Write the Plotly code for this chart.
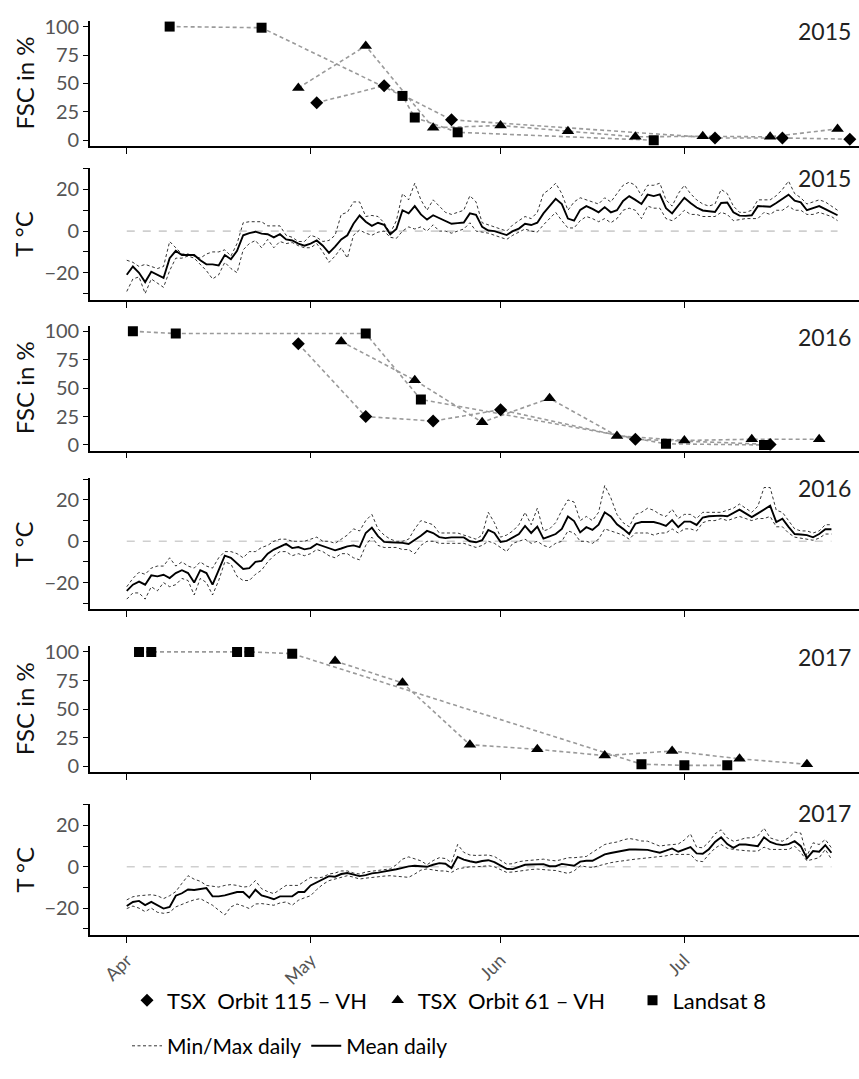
import plotly.graph_objects as go
import pandas as pd

# ---------------- data ----------------
MONTH_STARTS = ["04-01", "05-01", "06-01", "07-01"]
MONTH_LABELS = ["Apr", "May", "Jun", "Jul"]
FSC_TICKS = [0, 25, 50, 75, 100]
T_TICKS = [-30, -20, -10, 0, 10, 20, 30]
T_TICKTEXT = ["", "−20", "", "0", "", "20", ""]
YEARS = [2015, 2016, 2017]
SENSORS = ["TSX\u00a0 Orbit 115 – VH\u00a0", "TSX\u00a0 Orbit 61 – VH\u00a0\u00a0\u00a0\u00a0", "Landsat 8"]

# FSC observations (%)
FSC2015_TSX115_DATES = ["2015-05-02", "2015-05-13", "2015-05-24", "2015-07-06", "2015-07-17", "2015-07-28"]
FSC2015_TSX115 = [33, 48, 18, 2, 2, 1]
FSC2015_TSX61_DATES = ["2015-04-29", "2015-05-10", "2015-05-21", "2015-06-01", "2015-06-12",
                       "2015-06-23", "2015-07-04", "2015-07-15", "2015-07-26"]
FSC2015_TSX61 = [46, 83, 11, 13, 8, 3, 3.5, 3, 10]
FSC2015_L8_DATES = ["2015-04-08", "2015-04-23", "2015-05-16", "2015-05-18", "2015-05-25", "2015-06-26"]
FSC2015_L8 = [100, 99, 39, 20, 7, 0]

FSC2016_TSX115_DATES = ["2016-04-29", "2016-05-10", "2016-05-21", "2016-06-01", "2016-06-23", "2016-07-15"]
FSC2016_TSX115 = [89, 25, 21, 31, 5, 0.5]
FSC2016_TSX61_DATES = ["2016-05-06", "2016-05-18", "2016-05-29", "2016-06-09", "2016-06-20",
                       "2016-07-01", "2016-07-12", "2016-07-23"]
FSC2016_TSX61 = [91, 57, 20, 41, 8, 4, 5, 5]
FSC2016_L8_DATES = ["2016-04-02", "2016-04-09", "2016-05-10", "2016-05-19", "2016-06-28", "2016-07-14"]
FSC2016_L8 = [100, 98, 98, 40, 1, 0]

FSC2017_TSX115_DATES = []
FSC2017_TSX115 = []
FSC2017_TSX61_DATES = ["2017-05-05", "2017-05-16", "2017-05-27", "2017-06-07", "2017-06-18",
                       "2017-06-29", "2017-07-10", "2017-07-21"]
FSC2017_TSX61 = [92, 73, 19, 15, 9.5, 13.5, 6.7, 2]
FSC2017_L8_DATES = ["2017-04-03", "2017-04-05", "2017-04-19", "2017-04-21", "2017-04-28",
                    "2017-06-24", "2017-07-01", "2017-07-08"]
FSC2017_L8 = [100, 100, 100, 100, 98.5, 2, 1, 1]

# Daily air temperature (°C), starting 1 April
T2015_MEAN = [-21, -17, -20, -24.5, -19.5, -21, -22.5, -13, -9.5, -11.5,
              -11.5, -11.5, -14, -16, -16, -16.5, -11.5, -13.5, -9.5, -2,
              -1, -0.3, -1.2, -1.5, -3, -1.5, -4, -4.5, -6, -7,
              -6, -4.5, -7, -10.5, -7.5, -4, -2, 3.5, 7.5, 4.5,
              2.5, 4, 3, -1.5, 1, 10, 8.5, 12, 8, 5.5,
              7.6, 6.2, 5, 3.5, 3.8, 4.1, 8.5, 7.8, 2, 0.3,
              0, -0.8, -1.9, 0, 1.2, 3.5, 2.9, 4, 8.5, 12,
              15.5, 13, 6, 5, 10.2, 12, 10.7, 9, 11.5, 9,
              10, 14.5, 16.8, 15, 13, 17.5, 16.8, 17.6, 11, 8.5,
              12.5, 16, 13.5, 11.3, 9.9, 9.5, 9.2, 13.5, 13.7, 9,
              7.4, 7.3, 7.6, 12, 12, 11.7, 13.5, 15.5, 17.5, 14.6,
              13.8, 10, 11, 12, 10.5, 9, 7.6]
T2015_MAX = [-14, -15, -17, -16, -17, -18, -17, -5, -8, -11,
             -11, -12, -13, -11, -10, -10, -9, -12, -6, 4,
             4.5, 4.5, 4.5, 2.5, 2.5, 2.5, -2, -3, -5, -5,
             -2, -3, -5, -4.5, -2, 8, 9, 14, 14, 7,
             7.5, 7, 4, -1, 5, 18, 15, 23, 15, 10,
             15, 12, 9, 8, 9, 10, 17, 14, 4, 3,
             2, 1, 0, 3, 5, 7, 6, 9, 18, 20,
             23, 18, 10, 14, 16, 15, 14, 13, 16, 14,
             18, 22, 23.5, 22, 17, 22, 22, 23, 15, 12,
             18, 22, 18, 15, 13, 12, 13, 20, 18, 12,
             9, 9, 10, 15, 15, 15, 17, 20, 24, 18,
             16, 13, 14, 15, 14, 12, 10]
T2015_MIN = [-29, -23, -22, -30, -23, -25, -27, -19, -13, -13,
             -12, -13, -16, -19, -23, -21, -15, -18, -20, -9,
             -6, -4.5, -8, -4, -8, -5, -6, -5.5, -7, -8,
             -8, -6, -10, -15, -12, -8, -13, -2, 0.5, -1,
             -2, -0.5, 0, -3, -3.5, 0, 2, 1, 2, 0,
             3, 0, 0, -1, 0, 1, 4, 0, -0.5, -1,
             -2, -3, -4, -2, -0.5, 1, 0, -0.5, 3, 6,
             9, 5, 1.5, 1.5, 5, 7, 6, 4.5, 6, 4,
             6, 10, 11, 10, 6, 12, 11, 11, 6, 5,
             7, 10, 8, 8, 7, 7, 7, 9, 8, 5,
             5.5, 6, 6, 6, 9, 8, 10, 10, 12, 10,
             10, 8, 8, 9, 8, 7, 5]

T2016_MEAN = [-24, -21, -19.5, -21, -16.5, -17, -16.2, -17.8, -15.4, -14,
              -15.4, -20, -14, -15.4, -21, -14, -7, -8, -10.7, -13.4,
              -13, -10, -9.5, -6, -4, -2.5, -1.3, -3.3, -2.8, -3.9,
              -3.3, -1.3, -2.4, -3.3, -4.4, -3.5, -2.5, -2, -2.8, 4,
              6.6, 2.5, -0.3, -0.5, -0.5, -0.8, -1.3, 0.5, 2.7, 5,
              4, 2, 1.5, 1.9, 1.9, 1.9, 0, -0.5, 0.5, 5.5,
              4, -0.3, 0.2, 2, 3.5, 7.4, 4, 7.1, 1.3, 2.4,
              3.5, 6, 12, 9.8, 4.3, 6.8, 5.5, 8, 14, 12,
              8.2, 6, 3.5, 8.5, 9.3, 9.3, 9.3, 8.5, 7.4, 10.2,
              6.8, 9.5, 9.5, 7.9, 11.5, 12.1, 12.2, 12.4, 12.1, 13.5,
              15.3, 13.5, 11.7, 13.5, 15.5, 17.2, 9.3, 10.9, 7, 3.5,
              3.3, 3, 1.9, 3.5, 5.8, 5.8]
T2016_MAX = [-22, -18, -15, -16, -13, -12, -12, -8, -12, -10,
             -12, -13, -10, -12, -13, -8, -5, -5, -6, -8,
             -5, -5, -3, -2, 0, 1, 1, 0, 0, 0,
             1, 2, 0, 0, -1, 1, 3, 6, 5, 10,
             13, 6, 3, 1, 0, 0, 1, 6, 10, 9,
             8, 4, 4, 4, 4, 3, 2, 1, 3, 14,
             9, 2, 3, 5, 8, 14, 8, 16, 5, 6,
             9, 15, 20, 19, 10, 12, 10, 14, 27, 21,
             13, 9, 7, 13, 14, 16, 15, 13, 12, 15.5,
             11, 13, 13, 11, 14, 14, 14, 14, 15, 16,
             18, 16, 14, 17, 26, 26, 15, 14, 10, 6,
             5, 5, 4, 5, 8, 8]
T2016_MIN = [-28, -25, -25, -28, -22, -24, -20, -22, -21, -18,
             -19, -26, -18, -20, -26, -19, -10, -11, -17, -19,
             -19, -16, -14, -10, -7, -5, -5, -7, -6, -7,
             -6, -4, -5, -7, -8, -6, -6, -8, -9, -2,
             2, -2, -3, -3, -3, -4, -4, -6, -2, 0,
             0, -1, -1, -1, -1, -1, -2, -3, -2, 0,
             -1, -3, -5, -1, 0, 1, -1, 0, -2, -3,
             -1, 0, 5, 4, 0, 0, -1, 1, 6, 5,
             4, 3, 1, 4, 4, 4, 3, 4, 4, 6,
             4, 6, 6, 5, 9, 10, 10, 11, 10, 11,
             12, 11, 10, 11, 11, 12, 7, 7, 4, 2,
             1.5, 1, 0.5, 1.5, 3.5, 3.5]

T2017_MEAN = [-19, -17, -16.5, -18.5, -17, -18.6, -20.2, -19.4, -14, -12.8,
              -11, -11.2, -10.8, -10.3, -14.3, -14.3, -13.8, -13, -12.2, -12.2,
              -14.9, -11.1, -13.8, -14.7, -15.7, -14.3, -14.3, -14.3, -12.2, -12.2,
              -9, -7.5, -6, -4.5, -4.8, -3.5, -3, -3.8, -4.5, -4,
              -3.2, -2.8, -2.3, -1.9, -1.2, -0.5, 0.2, 0.5, 0.3, 0,
              1, 1.8, 1.5, -0.6, 4.8, 3.5, 2.7, 2.1, 2.8, 3.2,
              2.3, 0.5, -1, -1.1, 0, 1, 1.1, 1.2, 1.3, 0.3,
              0.3, 1.4, 1, 0.5, 2.5, 2.9, 2.9, 4.5, 6, 6.7,
              7.3, 8, 8.4, 8.4, 8.4, 8.2, 7.5, 6.8, 7.8, 8.9,
              7.3, 8.5, 9.5, 6.5, 6.3, 8.5, 12, 14.3, 11, 9.2,
              10.8, 10.8, 10.5, 10, 14.3, 12, 11, 10.5, 11, 12.4,
              10, 4.1, 7.6, 7.3, 10.5, 6.8]
T2017_MAX = [-16, -14.5, -14, -13.8, -13.5, -14, -15.4, -14, -12, -8,
             -4.3, -6, -7, -9, -9.5, -9.8, -9, -8.6, -9, -9.8,
             -9.5, -6.7, -10.6, -12, -13, -11, -9, -9, -9, -7,
             -5.1, -5.4, -5, -3.5, -3, -2, -2, -3, -3.5, -2.5,
             -2.2, -1.8, -1.3, -1, 1, 3.7, 4.8, 4, 2.9, 1,
             3, 4.4, 4, 2, 10.8, 7, 5.7, 5.5, 5.5, 5.7,
             5, 3, 1.3, 1.5, 2.5, 2.9, 3.2, 3.5, 3.7, 3.2,
             2.9, 3.5, 4.4, 4.4, 4.8, 5, 7, 9, 10.8, 11.5,
             12, 13, 13.7, 13.2, 12.5, 12.4, 11, 10, 10.5, 10.8,
             11, 13, 15.9, 9.5, 9.2, 12, 16, 17.9, 14, 12.4,
             13, 14, 14, 15, 18.7, 14, 13, 12.4, 14, 16.8,
             16.3, 5.2, 11.6, 10.8, 13.2, 9.2]
T2017_MIN = [-20.2, -19, -20, -21.7, -20, -22, -22.5, -22, -19.4, -18,
             -17, -16, -15.4, -17, -18.6, -21, -23.3, -19.4, -18, -19,
             -20.2, -18, -17.8, -18.2, -18.6, -17.5, -17, -18.6, -16.2, -15,
             -14, -11, -8.5, -6.7, -6, -5, -4.3, -5, -5.9, -5.5,
             -5.1, -4.8, -4.5, -4.3, -4.5, -5, -5.1, -3.5, -1.6, -1,
             -1.5, -2, -2, -2.7, -1, -0.6, 0, 0, 0.3, 0.5,
             0, -1.5, -2.7, -2.5, -2, -1.6, -1.3, -1.1, -1.2, -1.6,
             -1.8, -2.5, -3.2, -2, 0.5, 0, -0.3, 0.5, 1.3, 2,
             2.5, 3, 3.3, 3.7, 4, 4.3, 4.6, 4.8, 5.3, 6,
             6, 6, 6, 2.9, 2.5, 6, 9, 10.8, 9, 8.4,
             8, 7.8, 7.6, 7.6, 9.5, 8.4, 8.4, 8.4, 8.4, 10,
             7, 2.9, 3.7, 4.4, 8.4, 3.7]

FSC_DATA = {
    2015: [(FSC2015_TSX115_DATES, FSC2015_TSX115), (FSC2015_TSX61_DATES, FSC2015_TSX61), (FSC2015_L8_DATES, FSC2015_L8)],
    2016: [(FSC2016_TSX115_DATES, FSC2016_TSX115), (FSC2016_TSX61_DATES, FSC2016_TSX61), (FSC2016_L8_DATES, FSC2016_L8)],
    2017: [(FSC2017_TSX115_DATES, FSC2017_TSX115), (FSC2017_TSX61_DATES, FSC2017_TSX61), (FSC2017_L8_DATES, FSC2017_L8)],
}
T_DATA = {2015: (T2015_MIN, T2015_MAX, T2015_MEAN),
          2016: (T2016_MIN, T2016_MAX, T2016_MEAN),
          2017: (T2017_MIN, T2017_MAX, T2017_MEAN)}
ZERO = 0

# ---------------- style / layout ----------------
FONT = "Lato, 'Open Sans', sans-serif"
W, H = 859, 1079
ML, MR, MT, MB = 90, 0, 0, 144
PH = H - MT - MB
PW = W - ML - MR
PANEL_PX = [(14, 140), (162, 295), (321, 447), (475, 607), (644, 771), (803, 935)]
YEAR_PX = [24, 172, 332, 485, 655, 812]
SYMBOLS = ["diamond", "triangle-up", "square"]
SIZES = [10, 11, 10]
GREY = "#9a9a9a"


def py(px):
    return 1 - (px - MT) / PH


def pxx(px):
    return (px - ML) / PW


fig = go.Figure()
panels = []
for yr in YEARS:
    panels.append(("fsc", yr))
    panels.append(("t", yr))

legend_done = set()
annotations = []
layout = {}
for i, (kind, yr) in enumerate(panels):
    n = "" if i == 0 else str(i + 1)
    xa, ya = "x" + n, "y" + n
    if kind == "fsc":
        for k, (dts, vals) in enumerate(FSC_DATA[yr]):
            if not dts:
                continue
            fig.add_trace(go.Scatter(x=pd.to_datetime(dts), y=vals, mode="lines",
                                     line=dict(color=GREY, width=1.6, dash="4px,3px"),
                                     showlegend=False, hoverinfo="skip", xaxis=xa, yaxis=ya))
        for k, (dts, vals) in enumerate(FSC_DATA[yr]):
            if not dts:
                continue
            show = k not in legend_done
            legend_done.add(k)
            fig.add_trace(go.Scatter(x=pd.to_datetime(dts), y=vals, mode="markers",
                                     marker=dict(symbol=SYMBOLS[k], size=SIZES[k], color="black"),
                                     name=SENSORS[k], showlegend=show, legend="legend",
                                     legendrank=k, xaxis=xa, yaxis=ya))
    else:
        tmin, tmax, tmean = T_DATA[yr]
        dates = pd.date_range(f"{yr}-04-01", periods=len(tmean), freq="D")
        fig.add_trace(go.Scatter(x=[dates[0], dates[-1]], y=[ZERO, ZERO], mode="lines",
                                 line=dict(color="#cfcfcf", width=1.6, dash="8px,8px"),
                                 showlegend=False, hoverinfo="skip", xaxis=xa, yaxis=ya))
        first = yr == YEARS[0]
        fig.add_trace(go.Scatter(x=dates, y=tmax, mode="lines",
                                 line=dict(color="black", width=0.8, dash="3px,2.5px"),
                                 name="Min/Max daily", legendgroup="mm", showlegend=first,
                                 legend="legend2", legendrank=1, xaxis=xa, yaxis=ya))
        fig.add_trace(go.Scatter(x=dates, y=tmin, mode="lines",
                                 line=dict(color="black", width=0.8, dash="3px,2.5px"),
                                 name="Min/Max daily", legendgroup="mm", showlegend=False,
                                 legend="legend2", xaxis=xa, yaxis=ya))
        fig.add_trace(go.Scatter(x=dates, y=tmean, mode="lines",
                                 line=dict(color="black", width=1.9),
                                 name="Mean daily", showlegend=first,
                                 legend="legend2", legendrank=2, xaxis=xa, yaxis=ya))

    top, bot = PANEL_PX[i]
    last = i == len(panels) - 1
    layout["xaxis" + n] = dict(
        domain=[0, 1], anchor=ya,
        range=[f"{yr}-03-26", f"{yr}-07-29 12:00"],
        tickvals=[f"{yr}-{m}" for m in MONTH_STARTS], ticktext=MONTH_LABELS,
        showticklabels=last, tickangle=-45,
        showline=True, linecolor="black", linewidth=1.6,
        ticks="outside", ticklen=6, tickwidth=1.4, tickcolor="black",
        showgrid=False, zeroline=False,
        tickfont=dict(family=FONT, size=18, color="#555555"),
    )
    if kind == "fsc":
        yax = dict(range=[-5, 105], tickvals=FSC_TICKS, ticktext=[str(v) for v in FSC_TICKS])
        ytitle = "FSC in %"
    else:
        yax = dict(range=[-33, 30.4], tickvals=T_TICKS, ticktext=T_TICKTEXT)
        ytitle = "T °C"
    yax.update(domain=[py(bot), py(top)], anchor=xa,
               showline=True, linecolor="black", linewidth=1.6,
               ticks="outside", ticklen=5, tickwidth=1.4, tickcolor="black",
               showgrid=False, zeroline=False,
               tickfont=dict(family=FONT, size=20, color="#555555"))
    layout["yaxis" + n] = yax

    annotations.append(dict(text=ytitle, xref="paper", yref="paper",
                            x=pxx(24), y=py((top + bot) / 2), textangle=-90,
                            xanchor="center", yanchor="middle", showarrow=False,
                            font=dict(family=FONT, size=24, color="#111111")))
    annotations.append(dict(text=str(yr), xref="paper", yref="paper",
                            x=pxx(853), y=py(YEAR_PX[i]), xanchor="right", yanchor="middle",
                            showarrow=False, font=dict(family=FONT, size=23, color="#222222")))

fig.update_layout(
    width=W, height=H,
    margin=dict(l=ML, r=MR, t=MT, b=MB),
    plot_bgcolor="white", paper_bgcolor="white",
    font=dict(family=FONT, color="black"),
    annotations=annotations,
    legend=dict(orientation="h", x=pxx(127), xanchor="left", y=py(1001), yanchor="middle",
                font=dict(family=FONT, size=22, color="black"), bgcolor="rgba(0,0,0,0)",
                traceorder="normal"),
    legend2=dict(orientation="h", x=pxx(127), xanchor="left", y=py(1047), yanchor="middle",
                 font=dict(family=FONT, size=21, color="black"), bgcolor="rgba(0,0,0,0)",
                 traceorder="normal"),
    **layout,
)

fig.write_html("out.html", config={"displayModeBar": False},
               post_script="document.body.style.margin='0';document.body.style.overflow='hidden';")
